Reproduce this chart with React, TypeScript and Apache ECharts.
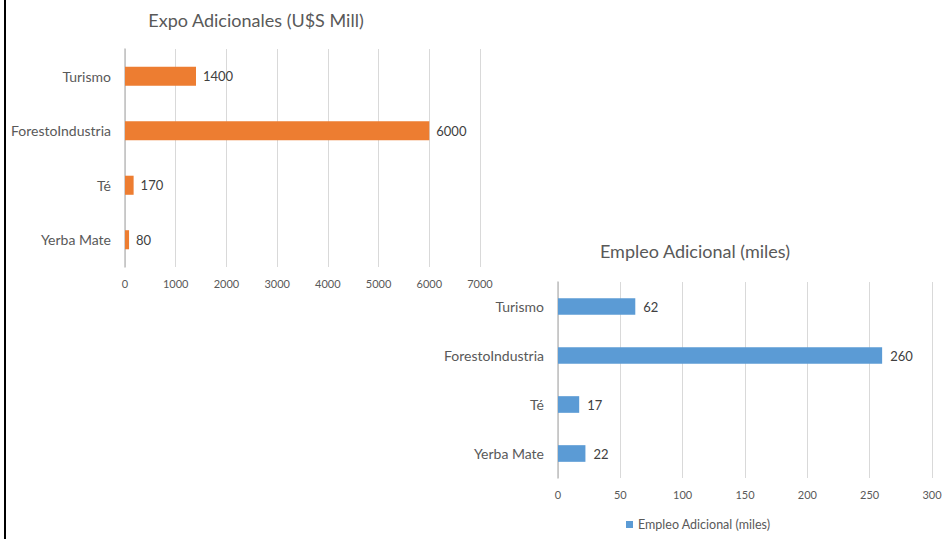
import React, { useEffect, useRef } from "react";
import * as echarts from "echarts";

const categories = ["Turismo", "ForestoIndustria", "Té", "Yerba Mate"];
const expoValues = [1400, 6000, 170, 80];
const empleoValues = [62, 260, 17, 22];
const expoTitle = "Expo Adicionales (U$S Mill)";
const empleoTitle = "Empleo Adicional (miles)";

const FONT = "Lato";
const TXT = "#595959";
const GRID = "#D9D9D9";

export default function App() {
  const ref = useRef<HTMLDivElement>(null);
  useEffect(() => {
    if (!ref.current) return;
    const chart = echarts.init(ref.current, undefined, { renderer: "svg" });
    const yAxisBase = (gridIndex: number) => ({
      type: "category" as const,
      gridIndex,
      data: categories,
      inverse: true,
      axisTick: { show: false },
      axisLine: { show: true, lineStyle: { color: "#BFBFBF", width: 1.5 } },
      axisLabel: { color: TXT, fontFamily: FONT, fontSize: 14, margin: 14 },
    });
    const xAxisBase = (gridIndex: number, max: number, interval: number) => ({
      type: "value" as const,
      gridIndex,
      min: 0,
      max,
      interval,
      axisLine: { show: false },
      axisTick: { show: false },
      splitLine: { show: true, lineStyle: { color: GRID, width: 1 } },
      axisLabel: {
        color: TXT,
        fontFamily: FONT,
        fontSize: 11,
        margin: 11,
        formatter: (v: number) => String(v),
      },
    });
    chart.setOption({
      animation: false,
      backgroundColor: "#ffffff",
      textStyle: { fontFamily: FONT },
      title: [
        {
          text: expoTitle,
          left: 251,
          top: 6,
          textAlign: "center",
          textStyle: { color: TXT, fontFamily: FONT, fontSize: 18, fontWeight: "normal" },
        },
        {
          text: empleoTitle,
          left: 690,
          top: 237,
          textAlign: "center",
          textStyle: { color: TXT, fontFamily: FONT, fontSize: 18, fontWeight: "normal" },
        },
      ],
      legend: {
        data: [empleoTitle],
        left: 626,
        top: 518,
        padding: 0,
        itemWidth: 7,
        itemHeight: 7,
        itemGap: 5,
        icon: "rect",
        textStyle: { color: TXT, fontFamily: FONT, fontSize: 12.5 },
      },
      grid: [
        { left: 125, top: 49, width: 355, height: 218 },
        { left: 558, top: 282, width: 374, height: 196 },
      ],
      xAxis: [xAxisBase(0, 7000, 1000), xAxisBase(1, 300, 50)],
      yAxis: [yAxisBase(0), yAxisBase(1)],
      graphic: [
        { type: "rect", shape: { x: 4, y: 0, width: 2, height: 539 }, style: { fill: "#000000" } },
      ],
      series: [
        {
          name: expoTitle,
          type: "bar",
          xAxisIndex: 0,
          yAxisIndex: 0,
          data: expoValues,
          barWidth: "35%",
          itemStyle: { color: "#ED7D31" },
          label: { show: true, position: "right", distance: 7, color: "#404040", fontFamily: FONT, fontSize: 13 },
        },
        {
          name: empleoTitle,
          type: "bar",
          xAxisIndex: 1,
          yAxisIndex: 1,
          data: empleoValues,
          barWidth: "34%",
          itemStyle: { color: "#5B9BD5" },
          label: { show: true, position: "right", distance: 8, color: "#404040", fontFamily: FONT, fontSize: 13 },
        },
      ],
    });
    return () => chart.dispose();
  }, []);
  return (
    <div
      ref={ref}
      style={{ position: "fixed", left: 0, top: 0, width: 948, height: 539 }}
    />
  );
}
